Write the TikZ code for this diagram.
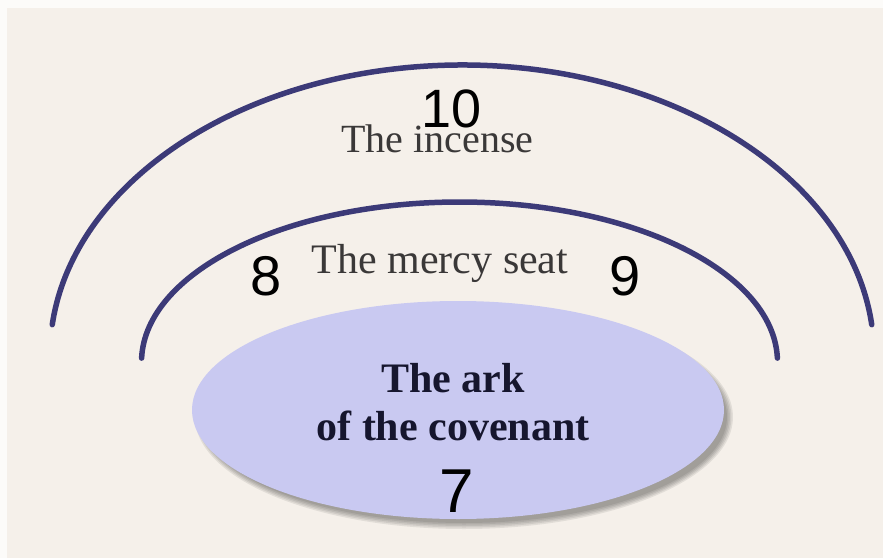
\documentclass[tikz,border=0pt]{standalone}
\usepackage{fontspec}
\setmainfont{Liberation Serif}
\newfontfamily\digitfont{Liberation Sans}
\usetikzlibrary{shapes.geometric,calc}
\definecolor{paper}{HTML}{F5F0EA}
\definecolor{paperedge}{HTML}{FCFBF9}
\definecolor{arcblue}{HTML}{3C3A78}
\definecolor{arkfill}{HTML}{C9C9F1}
\definecolor{labelgray}{HTML}{3A3838}
\definecolor{arktext}{HTML}{16162E}
\tikzset{
  arcline/.style={draw=arcblue, line width=5.5pt, line cap=round},
  seriflabel/.style={anchor=base, inner sep=0pt, text=labelgray},
  numlabel/.style={anchor=base, inner sep=0pt, text=black},
  arklabel/.style={anchor=base, inner sep=0pt, text=arktext, font=\fontsize{42}{48}\selectfont\bfseries}
}
\begin{document}
\begin{tikzpicture}[x=1pt,y=1pt]
\useasboundingbox (0,0) rectangle (883,558);
% paper background
\fill[paperedge] (0,0) rectangle (883,558);
\fill[paper] (7,0) rectangle (883,550);
% outer arc (the incense)
\coordinate (oc) at (462,203);
\draw[arcline] ($(oc)+(6:412 and 290)$) arc[start angle=6, end angle=174, x radius=412, y radius=290];
% inner arc (the mercy seat)
\coordinate (ic) at (459.5,196);
\draw[arcline] ($(ic)+(1.4:318 and 160)$) arc[start angle=1.4, end angle=178.6, x radius=318, y radius=160];
% shadow of the ark
\foreach \g in {0,1.5,3,4.5,6}{
  \fill[black, opacity=0.08] (464,141) ellipse[x radius=266+\g-3, y radius=109+\g-3];
}
% the ark
\node[ellipse, fill=arkfill, minimum width=532pt, minimum height=218pt, inner sep=0pt] (ark) at (458,148) {};
\node[arklabel] (arkA) at (453,166) {The ark};
\node[arklabel] (arkB) at (453,118) {of the covenant};
\node[numlabel, font=\digitfont\fontsize{62}{62}\selectfont] (n7) at (457,46) {7};
% labels
\node[numlabel, font=\digitfont\fontsize{54}{54}\selectfont] (n10) at (452,430) {10};
\node[seriflabel, font=\fontsize{40}{40}\selectfont] (incense) at (437.5,405) {The incense};
\node[numlabel, font=\digitfont\fontsize{56}{56}\selectfont] (n8) at (266,263) {8};
\node[numlabel, font=\digitfont\fontsize{56}{56}\selectfont] (n9) at (625,263) {9};
\node[seriflabel, font=\fontsize{42}{42}\selectfont] (mercy) at (440,285) {The mercy seat};
\end{tikzpicture}
\end{document}
